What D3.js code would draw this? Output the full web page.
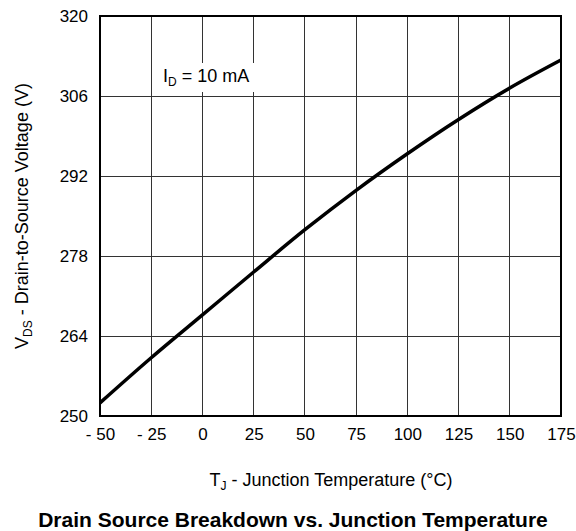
<!DOCTYPE html>
<html>
<head>
<meta charset="utf-8">
<script src="https://cdn.jsdelivr.net/npm/d3@7"></script>
<style>
  html, body { margin: 0; padding: 0; background: #fff; }
  svg { display: block; font-family: "Liberation Sans", Arial, Helvetica, sans-serif; }
</style>
</head>
<body>
<svg id="chart" width="576" height="531"></svg>
<script>
// ---- data ----
const temperatures = [-50, -25, 0, 25, 50, 75, 100, 125, 150, 175];
const vdsValues = [252.3, 260.2, 267.7, 275.2, 282.6, 289.5, 295.9, 301.9, 307.4, 312.3];
const xTicks = [-50, -25, 0, 25, 50, 75, 100, 125, 150, 175];
const xTickLabels = ["- 50", "- 25", "0", "25", "50", "75", "100", "125", "150", "175"];
const yTicks = [250, 264, 278, 292, 306, 320];
const yTickLabels = ["250", "264", "278", "292", "306", "320"];

const svg = d3.select("#chart");
const m = { left: 100, right: 561, top: 16, bottom: 416 };

const x = d3.scaleLinear().domain([-50, 175]).range([m.left, m.right]);
const y = d3.scaleLinear().domain([250, 320]).range([m.bottom, m.top]);

// grid
const grid = svg.append("g").attr("stroke", "#333").attr("stroke-width", 1).attr("shape-rendering", "crispEdges");
grid.selectAll("line.v").data(xTicks).enter().append("line")
  .attr("x1", d => x(d)).attr("x2", d => x(d))
  .attr("y1", m.top).attr("y2", m.bottom);
grid.selectAll("line.h").data(yTicks).enter().append("line")
  .attr("x1", m.left).attr("x2", m.right)
  .attr("y1", d => y(d)).attr("y2", d => y(d));

// annotation background
svg.append("rect").attr("x", 156).attr("y", 63).attr("width", 102).attr("height", 29).attr("fill", "#fff");
const ann = svg.append("text").attr("x", 163).attr("y", 82).attr("font-size", 18).attr("fill", "#000");
ann.append("tspan").text("I");
ann.append("tspan").attr("font-size", 12).attr("dy", 4).text("D");
ann.append("tspan").attr("dy", -4).text(" = 10 mA");

// curve
const line = d3.line().x((d, i) => x(temperatures[i])).y(d => y(d)).curve(d3.curveMonotoneX);
svg.append("path").datum(vdsValues).attr("d", line)
  .attr("fill", "none").attr("stroke", "#000").attr("stroke-width", 3.5).attr("stroke-linejoin", "round");

// border
svg.append("rect").attr("x", m.left).attr("y", m.top)
  .attr("width", m.right - m.left).attr("height", m.bottom - m.top)
  .attr("fill", "none").attr("stroke", "#000").attr("stroke-width", 2);

// axes (labels only)
const xAxis = d3.axisBottom(x).tickValues(xTicks).tickSize(0).tickPadding(0)
  .tickFormat((d, i) => xTickLabels[i]);
const gx = svg.append("g").attr("transform", `translate(0,${m.bottom + 12})`).call(xAxis);
gx.select(".domain").remove();
gx.selectAll("text").attr("font-size", 17).attr("fill", "#000").attr("font-family", "Liberation Sans, Arial, sans-serif");

const yAxis = d3.axisLeft(y).tickValues(yTicks).tickSize(0).tickPadding(12)
  .tickFormat((d, i) => yTickLabels[i]);
const gy = svg.append("g").attr("transform", `translate(${m.left},0)`).call(yAxis);
gy.select(".domain").remove();
gy.selectAll("text").attr("font-size", 17).attr("fill", "#000").attr("font-family", "Liberation Sans, Arial, sans-serif");

// x title
const xt = svg.append("text").attr("x", 331).attr("y", 486).attr("text-anchor", "middle").attr("font-size", 18);
xt.append("tspan").text("T");
xt.append("tspan").attr("font-size", 12).attr("dy", 4).text("J");
xt.append("tspan").attr("dy", -4).text(" - Junction Temperature (°C)");

// y title
const yt = svg.append("text").attr("transform", "translate(28,216) rotate(-90)").attr("text-anchor", "middle").attr("font-size", 18);
yt.append("tspan").text("V");
yt.append("tspan").attr("font-size", 12).attr("dy", 4).text("DS");
yt.append("tspan").attr("dy", -4).text(" - Drain-to-Source Voltage (V)");

// chart title
svg.append("text").attr("x", 293).attr("y", 527).attr("text-anchor", "middle")
  .attr("font-size", 21).attr("font-weight", "bold").text("Drain Source Breakdown vs. Junction Temperature");
</script>
</body>
</html>
